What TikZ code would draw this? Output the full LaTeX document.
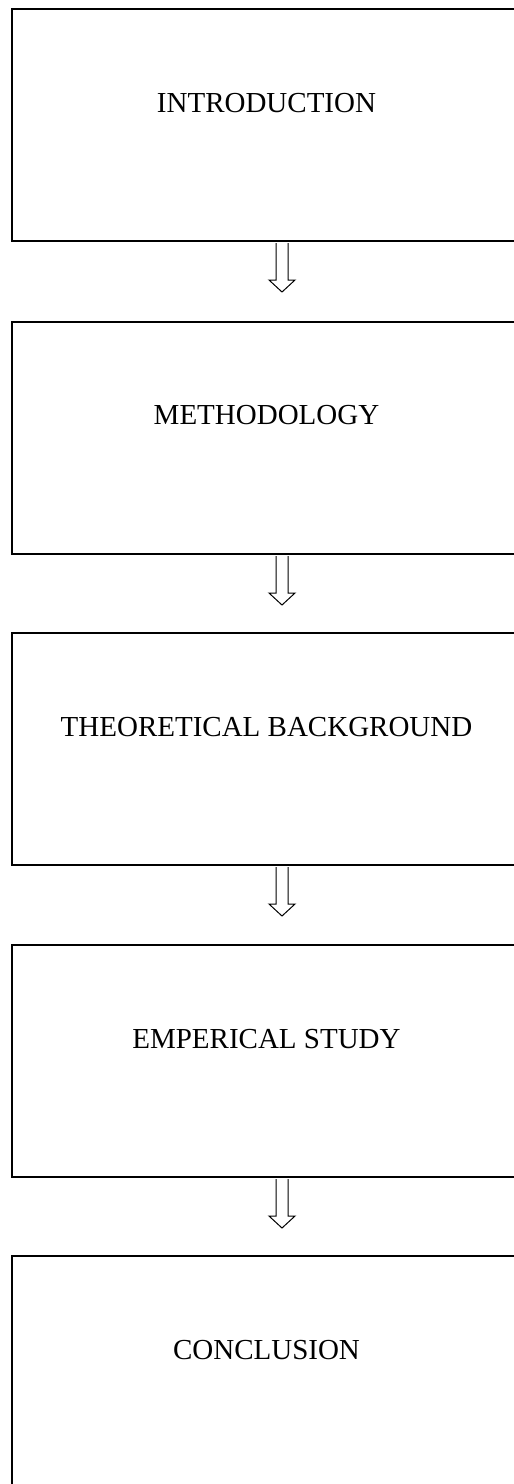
\documentclass[tikz,border=0pt]{standalone}
\usepackage{fontspec}
\setmainfont{Liberation Serif}
\usetikzlibrary{calc}
\tikzset{
  boxnode/.style={draw,line width=2pt,minimum width=509pt,minimum height=232pt,inner sep=0pt,anchor=north west},
  lbl/.style={font=\fontsize{29}{34}\selectfont,inner sep=0pt},
  blockarrow/.style={line width=1pt,line join=miter}
}
\begin{document}
\begin{tikzpicture}[x=1pt,y=-1pt]
\useasboundingbox (0,0) rectangle (514,1484);
\clip (0,0) rectangle (514,1484);
\node[boxnode] (b1) at (11,8) {};
\node[boxnode] (b2) at (11,321) {};
\node[boxnode] (b3) at (11,632) {};
\node[boxnode] (b4) at (11,944) {};
\node[boxnode] (b5) at (11,1255) {};
\node[lbl] (t1) at ($(b1.north)+(0,95.5)$) {INTRODUCTION};
\node[lbl] (t2) at ($(b2.north)+(0,94.5)$) {METHODOLOGY};
\node[lbl] (t3) at ($(b3.north)+(0,95)$) {THEORETICAL BACKGROUND};
\node[lbl] (t4) at ($(b4.north)+(0,95)$) {EMPERICAL STUDY};
\node[lbl] (t5) at ($(b5.north)+(0,95)$) {CONCLUSION};
\foreach \b in {b1,b2,b3,b4}{
  \coordinate (a\b) at ($(\b.south west)+(271,1)$);
  \draw[blockarrow] ($(a\b)+(-6,0)$) -- ++(0,37) -- ++(-7,0) -- ++(13,12) -- ++(13,-12) -- ++(-7,0) -- ++(0,-37);
}
\end{tikzpicture}
\end{document}
